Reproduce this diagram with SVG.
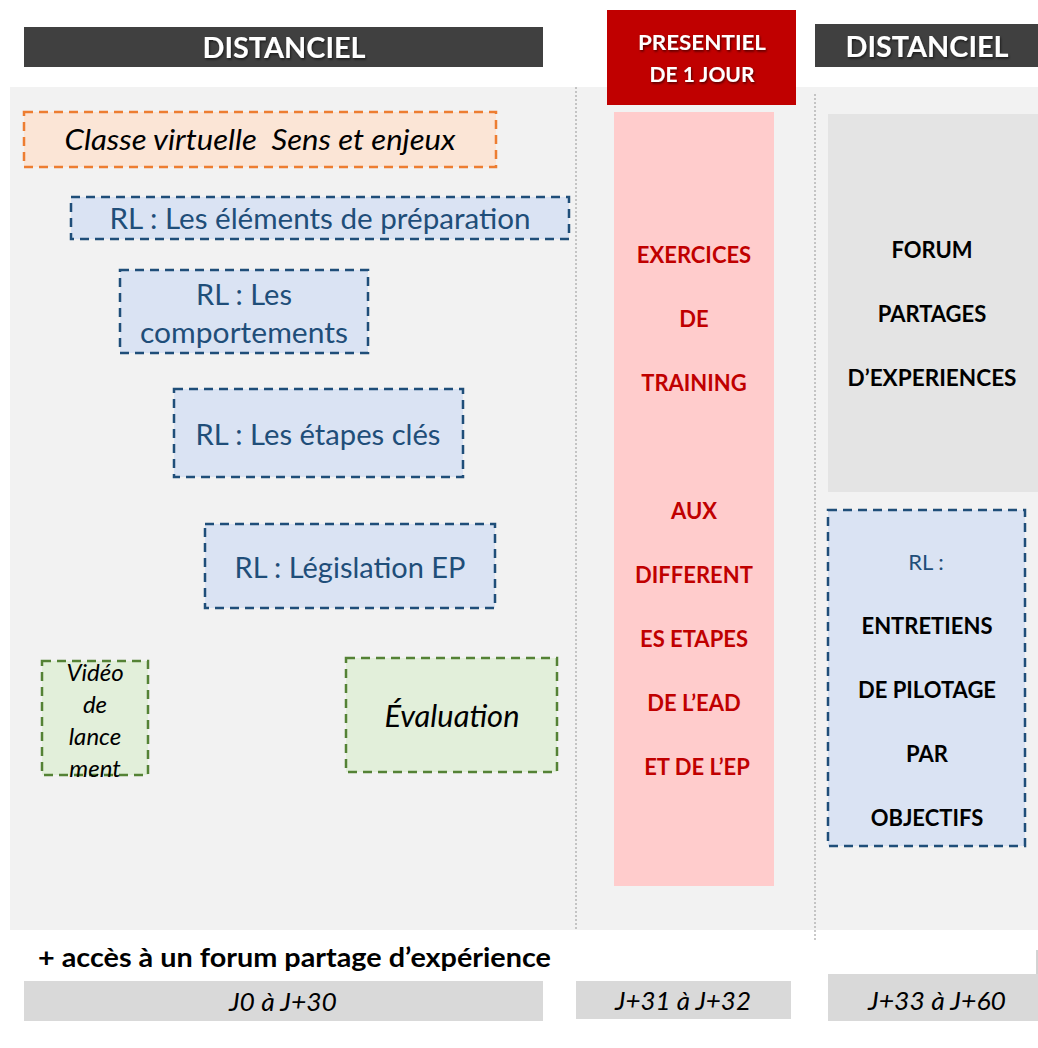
<svg xmlns="http://www.w3.org/2000/svg" width="1038" height="1048" viewBox="0 0 1038 1048">
<style>
text{font-family:Lato,"Open Sans","Liberation Sans",sans-serif;text-anchor:middle}
.hdr{fill:#fff;font-weight:bold;font-size:29px}
.hdr2{fill:#fff;font-weight:bold;font-size:21px}
.rl{fill:#DAE3F3;stroke:#1F4E79;stroke-width:2.5;stroke-dasharray:9 6}
.rlt{fill:#1F4E79;font-size:29px}
.gr{fill:#E2EFDA;stroke:#548235;stroke-width:2.5;stroke-dasharray:9 6}
.it{font-style:italic;fill:#000}
.red{fill:#C00000;font-weight:bold;font-size:22px}
.blk{fill:#000;font-weight:bold;font-size:22px}
.sep{stroke:#A6A6A6;stroke-width:1.2;stroke-dasharray:2 2}
.bar{fill:#D9D9D9}
.date{font-style:italic;font-size:26px;fill:#000}
</style>
<defs>
<filter id="sh" x="-10%" y="-20%" width="130%" height="160%">
<feDropShadow dx="1" dy="1.5" stdDeviation="1" flood-color="#000" flood-opacity="0.6"/>
</filter>
</defs>
<rect x="0" y="0" width="1038" height="1048" fill="#fff"/>
<rect id="bg" x="10" y="87" width="1028" height="843" fill="#F2F2F2"/>
<g id="connectors">
<line class="sep" x1="576" y1="87" x2="576" y2="930"/>
<line class="sep" x1="815" y1="94" x2="815" y2="940"/>
<line x1="1037" y1="950" x2="1037" y2="1020" stroke="#A6A6A6" stroke-width="1"/>
</g>
<g id="hdr-left"><rect x="24" y="27" width="519" height="40" fill="#404040"/><text class="hdr" x="284" y="58" textLength="163" lengthAdjust="spacingAndGlyphs" filter="url(#sh)">DISTANCIEL</text></g>
<g id="hdr-mid"><rect x="607" y="10" width="189" height="95" fill="#C00000"/><text class="hdr2" x="702" y="50" textLength="128" lengthAdjust="spacingAndGlyphs" filter="url(#sh)">PRESENTIEL</text><text class="hdr2" x="702" y="82" filter="url(#sh)">DE 1 JOUR</text></g>
<g id="hdr-right"><rect x="815" y="24" width="223" height="43" fill="#404040"/><text class="hdr" x="927" y="57" textLength="163" lengthAdjust="spacingAndGlyphs" filter="url(#sh)">DISTANCIEL</text></g>
<g id="classe"><rect x="24" y="112" width="472" height="55" fill="#FBE5D6" stroke="#ED7D31" stroke-width="2.5" stroke-dasharray="9 6"/><text class="it" x="260" y="150" font-size="29" textLength="391" lengthAdjust="spacingAndGlyphs" xml:space="preserve">Classe virtuelle  Sens et enjeux</text></g>
<g id="rl-prep"><rect class="rl" x="71" y="197" width="498" height="42"/><text class="rlt" x="320" y="229" textLength="421" lengthAdjust="spacingAndGlyphs">RL : Les éléments de préparation</text></g>
<g id="rl-comp"><rect class="rl" x="120" y="270" width="248" height="83"/><text class="rlt" x="244" y="305">RL : Les</text><text class="rlt" x="244" y="343" textLength="208" lengthAdjust="spacingAndGlyphs">comportements</text></g>
<g id="rl-etapes"><rect class="rl" x="174" y="389" width="289" height="88"/><text class="rlt" x="318" y="445" textLength="245" lengthAdjust="spacingAndGlyphs">RL : Les étapes clés</text></g>
<g id="rl-legis"><rect class="rl" x="205" y="524" width="290" height="84"/><text class="rlt" x="350" y="578" textLength="231" lengthAdjust="spacingAndGlyphs">RL : Législation EP</text></g>
<g id="video"><rect class="gr" x="42" y="661" width="106" height="114"/><text class="it" font-size="24" x="95" y="681">Vidéo</text><text class="it" font-size="24" x="95" y="713">de</text><text class="it" font-size="24" x="95" y="745">lance</text><text class="it" font-size="24" x="95" y="777">ment</text></g>
<g id="evaluation"><rect class="gr" x="346" y="658" width="211" height="114"/><text class="it" font-size="30" x="452" y="727" textLength="135" lengthAdjust="spacingAndGlyphs">Évaluation</text></g>
<g id="presentiel"><rect x="614" y="112" width="160" height="774" fill="#FFCCCC"/>
<text class="red" x="694" y="263">EXERCICES</text><text class="red" x="694" y="327">DE</text><text class="red" x="694" y="391">TRAINING</text><text class="red" x="694" y="519">AUX</text><text class="red" x="694" y="583">DIFFERENT</text><text class="red" x="694" y="647">ES ETAPES</text><text class="red" x="694" y="711">DE L’EAD</text><text class="red" x="697" y="775">ET DE L’EP</text></g>
<g id="forum"><rect x="828" y="114" width="210" height="378" fill="#E4E4E4"/><text class="blk" x="932" y="258">FORUM</text><text class="blk" x="932" y="322">PARTAGES</text><text class="blk" x="932" y="386" textLength="169" lengthAdjust="spacingAndGlyphs">D’EXPERIENCES</text></g>
<g id="rl-entretiens"><rect class="rl" x="828" y="510" width="197" height="336"/><text x="926" y="570" fill="#1F4E79" font-size="22">RL :</text><text class="blk" x="927" y="634">ENTRETIENS</text><text class="blk" x="927" y="698">DE PILOTAGE</text><text class="blk" x="927" y="762">PAR</text><text class="blk" x="927" y="826">OBJECTIFS</text></g>
<g id="note"><text x="38" y="967" style="text-anchor:start" font-weight="bold" font-size="27" fill="#000" textLength="513" lengthAdjust="spacingAndGlyphs">+ accès à un forum partage d’expérience</text></g>
<g id="date1"><rect class="bar" x="24" y="981" width="519" height="40"/><text class="date" x="283" y="1011" textLength="108" lengthAdjust="spacingAndGlyphs">J0 à J+30</text></g>
<g id="date2"><rect class="bar" x="576" y="981" width="215" height="38"/><text class="date" x="683" y="1010" textLength="136" lengthAdjust="spacingAndGlyphs">J+31 à J+32</text></g>
<g id="date3"><rect class="bar" x="828" y="974" width="210" height="47"/><text class="date" x="937" y="1010" textLength="138" lengthAdjust="spacingAndGlyphs">J+33 à J+60</text></g>
</svg>
